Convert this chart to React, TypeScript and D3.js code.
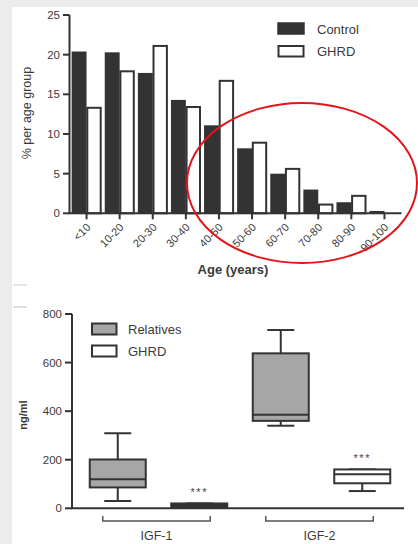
import React from "react";
import * as d3 from "d3";

const ageGroups = ["<10", "10-20", "20-30", "30-40", "40-50", "50-60", "60-70", "70-80", "80-90", "90-100"];
const controlPct = [20.3, 20.2, 17.6, 14.2, 11.0, 8.1, 4.9, 2.9, 1.3, 0.2];
const ghrdPct = [13.3, 17.9, 21.1, 13.4, 16.7, 8.9, 5.6, 1.1, 2.2, 0];
const pctTicks = [0, 5, 10, 15, 20, 25];

const factors = ["IGF-1", "IGF-2"];
const boxGroups = ["Relatives", "GHRD"];
// [min, q1, median, q3, max]
const relativesStats = [
  [30, 86, 120, 201, 309],
  [340, 360, 385, 638, 734],
];
const ghrdStats = [
  [4, 4, 12, 20, 20],
  [71, 103, 140, 160, 160],
];
const ngTicks = [0, 200, 400, 600, 800];

const W = 418;
const H = 544;
const ink = "#333";
const txt = "#3a3a3a";
const font = "'Liberation Sans', Arial, sans-serif";

export default function App() {
  // ---------- top chart ----------
  const x0 = d3.scaleBand<string>().domain(ageGroups).range([70, 401]).paddingInner(0.1).paddingOuter(0.05);
  const x1 = d3.scaleBand<string>().domain(["Control", "GHRD"]).range([0, x0.bandwidth()]);
  const y = d3.scaleLinear().domain([0, 25]).range([213.3, 15]);
  const tickX = (g: string) => (x0(g) as number) + x0.bandwidth() / 2;

  // ---------- bottom chart ----------
  const gx = d3.scaleBand<string>().domain(factors).range([77, 403]);
  const sx = d3.scalePoint<string>().domain(boxGroups).range([0, gx.bandwidth()]).padding(0.5);
  const yb = d3.scaleLinear().domain([0, 800]).range([508.3, 314]);
  const boxW = 56;
  const capW = 27;

  const boxes: { cx: number; s: number[]; fill: string; group: string; f: string }[] = [];
  factors.forEach((f, i) => {
    boxes.push({ cx: (gx(f) as number) + (sx("Relatives") as number), s: relativesStats[i], fill: "#a6a6a6", group: "Relatives", f });
    boxes.push({ cx: (gx(f) as number) + (sx("GHRD") as number), s: ghrdStats[i], fill: "#fff", group: "GHRD", f });
  });

  return (
    <svg width={W} height={H} style={{ position: "absolute", left: 0, top: 0, display: "block" }} fontFamily={font}>
      <rect x={0} y={0} width={W} height={H} fill="#ececec" />
      <rect x={12} y={7} width={W - 12} height={H - 7} fill="#fff" />
      <line x1={13} x2={27} y1={285} y2={285} stroke="#ccc" strokeWidth={1} />
      <line x1={13} x2={27} y1={307} y2={307} stroke="#bbb" strokeWidth={1} />

      {/* ===== top chart ===== */}
      {ageGroups.map((g, i) => {
        const bx = x0(g) as number;
        return (
          <g key={g}>
            <rect
              x={bx + (x1("Control") as number) + 0.75}
              y={y(controlPct[i])}
              width={x1.bandwidth() - 1.5}
              height={Math.max(0, y(0) - y(controlPct[i]))}
              fill={ink}
              stroke={ink}
              strokeWidth={1.5}
            />
            {ghrdPct[i] > 0 && (
              <rect
                x={bx + (x1("GHRD") as number) + 0.75}
                y={y(ghrdPct[i])}
                width={x1.bandwidth() - 1.5}
                height={y(0) - y(ghrdPct[i])}
                fill="#fff"
                stroke={ink}
                strokeWidth={2}
              />
            )}
          </g>
        );
      })}
      {/* y axis */}
      <line x1={69.5} x2={69.5} y1={y(25)} y2={y(0)} stroke={ink} strokeWidth={2} />
      {pctTicks.map((t) => (
        <g key={t}>
          <line x1={63} x2={69.5} y1={y(t)} y2={y(t)} stroke={ink} strokeWidth={2} />
          <text x={60} y={y(t)} dy="0.35em" textAnchor="end" fontSize={11.5} fill={txt}>
            {t}
          </text>
        </g>
      ))}
      {/* x axis */}
      <line x1={68.5} x2={401.5} y1={y(0)} y2={y(0)} stroke={ink} strokeWidth={2} />
      {ageGroups.map((g) => (
        <g key={g}>
          <line x1={tickX(g)} x2={tickX(g)} y1={y(0)} y2={y(0) + 6} stroke={ink} strokeWidth={2} />
          <text
            transform={`translate(${tickX(g) + 2},${y(0) + 12}) rotate(-45)`}
            textAnchor="end"
            dy="0.35em"
            fontSize={11}
            fill={txt}
          >
            {g}
          </text>
        </g>
      ))}
      <text transform="translate(27,113) rotate(-90)" textAnchor="middle" dy="0.35em" fontSize={12.5} fill={txt}>
        % per age group
      </text>
      <text x={233} y={274} textAnchor="middle" fontSize={13} fill={txt} fontWeight={600}>
        Age (years)
      </text>
      {/* legend */}
      <rect x={278} y={23} width={26} height={11} fill={ink} stroke={ink} strokeWidth={1.5} />
      <text x={317} y={29} dy="0.35em" fontSize={13} fill={txt}>
        Control
      </text>
      <rect x={278.5} y={46} width={25} height={10.5} fill="#fff" stroke={ink} strokeWidth={2} />
      <text x={317} y={51.5} dy="0.35em" fontSize={13} fill={txt}>
        GHRD
      </text>
      {/* red ellipse */}
      <ellipse cx={302} cy={183} rx={115} ry={80} fill="none" stroke="#e3141b" strokeWidth={2} />

      {/* ===== bottom chart ===== */}
      {boxes.map((b, i) => {
        const [mn, q1, md, q3, mx] = b.s;
        return (
          <g key={i}>
            <line x1={b.cx} x2={b.cx} y1={yb(mx)} y2={yb(q3)} stroke={ink} strokeWidth={2} />
            <line x1={b.cx} x2={b.cx} y1={yb(q1)} y2={yb(mn)} stroke={ink} strokeWidth={2} />
            <line x1={b.cx - capW / 2} x2={b.cx + capW / 2} y1={yb(mx)} y2={yb(mx)} stroke={ink} strokeWidth={2} />
            <line x1={b.cx - capW / 2} x2={b.cx + capW / 2} y1={yb(mn)} y2={yb(mn)} stroke={ink} strokeWidth={2} />
            <rect
              x={b.cx - boxW / 2}
              y={yb(q3)}
              width={boxW}
              height={yb(q1) - yb(q3)}
              fill={b.group === "GHRD" && b.f === "IGF-1" ? ink : b.fill}
              stroke={ink}
              strokeWidth={2}
            />
            <line x1={b.cx - boxW / 2} x2={b.cx + boxW / 2} y1={yb(md)} y2={yb(md)} stroke={ink} strokeWidth={2} />
            {b.group === "GHRD" && (
              <text x={b.cx} y={yb(Math.max(mx, q3)) - 14} textAnchor="middle" dy="0.6em" fontSize={11} fill="#444" letterSpacing={1.5}>
                ***
              </text>
            )}
          </g>
        );
      })}
      {/* axes */}
      <line x1={72} x2={72} y1={yb(800)} y2={yb(0)} stroke={ink} strokeWidth={2} />
      {ngTicks.map((t) => (
        <g key={t}>
          <line x1={65} x2={72} y1={yb(t)} y2={yb(t)} stroke={ink} strokeWidth={2} />
          <text x={62} y={yb(t)} dy="0.35em" textAnchor="end" fontSize={11.5} fill={txt}>
            {t}
          </text>
        </g>
      ))}
      <line x1={71} x2={404} y1={yb(0)} y2={yb(0)} stroke={ink} strokeWidth={2} />
      {factors.map((f) => {
        const l = (gx(f) as number) + (sx("Relatives") as number) - 15;
        const r = (gx(f) as number) + (sx("GHRD") as number) + 11;
        const c = (l + r) / 2;
        return (
          <g key={f}>
            <path d={`M${l},516 V521 H${r} V516`} fill="none" stroke="#555" strokeWidth={1.5} />
            <text x={c} y={536} dy="0.35em" textAnchor="middle" fontSize={12.5} fill={txt}>
              {f}
            </text>
          </g>
        );
      })}
      <text transform="translate(23,415) rotate(-90)" textAnchor="middle" dy="0.35em" fontSize={11} fill={txt} fontWeight={600}>
        ng/ml
      </text>
      {/* legend */}
      <rect x={92} y={323.5} width={24.5} height={11} fill="#a6a6a6" stroke={ink} strokeWidth={2} />
      <text x={128} y={329} dy="0.35em" fontSize={13} fill={txt}>
        Relatives
      </text>
      <rect x={92} y={345.5} width={24.5} height={11} fill="#fff" stroke={ink} strokeWidth={2} />
      <text x={128} y={351} dy="0.35em" fontSize={13} fill={txt}>
        GHRD
      </text>
    </svg>
  );
}
